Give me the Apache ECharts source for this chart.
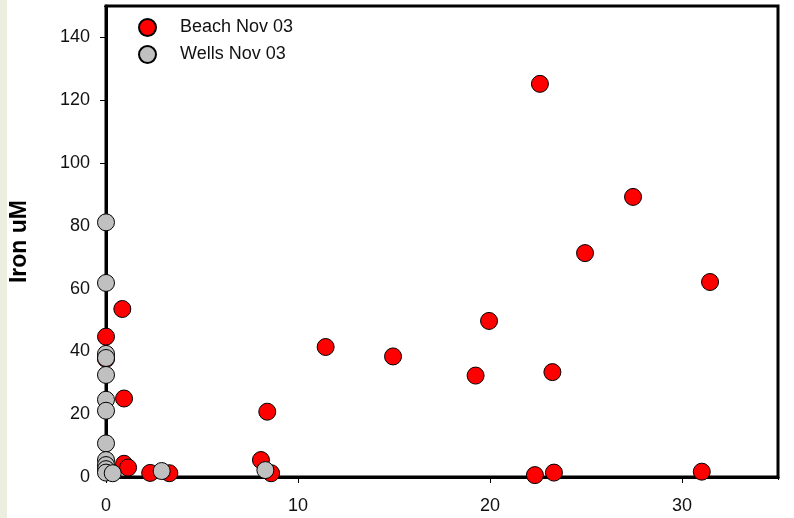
<!DOCTYPE html>
<html>
<head>
<meta charset="utf-8">
<script src="https://cdn.jsdelivr.net/npm/echarts@6/dist/echarts.min.js"></script>
<style>
html,body{margin:0;padding:0;background:#fff;}
#c{width:794px;height:518px;}
</style>
</head>
<body>
<div id="c"></div>
<script>
const seriesNames = ['Beach Nov 03', 'Wells Nov 03'];
const beachData = [
  [22.6,125.2],[27.45,89.2],[24.95,71.3],[31.46,62.1],[19.95,49.7],[11.44,41.4],
  [14.95,38.4],[19.25,32.3],[23.25,33.4],[0.85,53.5],[0,44.7],[0,37.6],[0.94,25],
  [8.4,20.8],[8.07,5.4],[8.6,1.2],[2.3,1.3],[3.3,1.2],[0.94,4.2],[1.15,3],
  [22.34,0.6],[23.33,1.4],[31.03,1.7]
];
const wellsData = [
  [0,81.1],[0,61.8],[0,39.2],[0,37.9],[0,32.5],[0,24.6],[0,21.1],[0,10.7],
  [0,5.4],[0,3.8],[0,2.5],[0,1.4],[0.35,1.2],[2.9,1.9],[8.3,2.2]
];
const xMax = 35, yMax = 150;
const yAxisTitle = 'Iron uM';

const chart = echarts.init(document.getElementById('c'), null, {renderer:'canvas'});
const font = 'Liberation Sans, Arial, sans-serif';
chart.setOption({
  animation:false,
  backgroundColor:'#ffffff',
  graphic:[
    {type:'rect', left:0, top:0, shape:{width:7, height:518}, style:{fill:'#eceee0'}, z:-1},
    {type:'rect', left:96, top:0, shape:{width:8, height:9}, style:{fill:'#fff'}, z:100},
    {type:'rect', left:772, top:480, shape:{width:10, height:10}, style:{fill:'#fff'}, z:100}
  ],
  grid:{left:106, right:16, top:6, bottom:41, show:true, borderColor:'#000', borderWidth:3, backgroundColor:'transparent'},
  legend:{
    orient:'vertical', left:133, top:13, itemWidth:17, itemHeight:17, itemGap:8,
    icon:'circle',
    textStyle:{fontFamily:font, fontSize:18, color:'#111', padding:[0,0,0,19]},
    data:seriesNames
  },
  xAxis:{
    type:'value', min:0, max:xMax, interval:10,
    axisLine:{show:true, onZero:false, lineStyle:{color:'#000', width:3}},
    axisTick:{show:true, length:6, lineStyle:{color:'#000', width:1}},
    axisLabel:{fontFamily:font, fontSize:18, color:'#111', margin:20,
      formatter:function(v){ return v % 10 === 0 ? String(v) : ''; }},
    splitLine:{show:false}
  },
  yAxis:{
    type:'value', min:0, max:yMax, interval:20,
    name:yAxisTitle, nameLocation:'middle', nameGap:75, nameRotate:90,
    nameTextStyle:{fontFamily:font, fontSize:23, fontWeight:'bold', color:'#000'},
    axisLine:{show:true, onZero:false, lineStyle:{color:'#000', width:3}},
    axisTick:{show:true, length:6, lineStyle:{color:'#000', width:1}},
    axisLabel:{fontFamily:font, fontSize:18, color:'#111', margin:16,
      formatter:function(v){ return v % 20 === 0 ? String(v) : ''; }},
    splitLine:{show:false}
  },
  series:[
    {name:seriesNames[0], type:'scatter', data:beachData, symbolSize:17, clip:false,
     itemStyle:{color:'#ff0000', borderColor:'#000', borderWidth:1, opacity:1}},
    {name:seriesNames[1], type:'scatter', data:wellsData, symbolSize:17, clip:false,
     itemStyle:{color:'#c0c0c0', borderColor:'#000', borderWidth:1, opacity:1}}
  ]
});
</script>
</body>
</html>
